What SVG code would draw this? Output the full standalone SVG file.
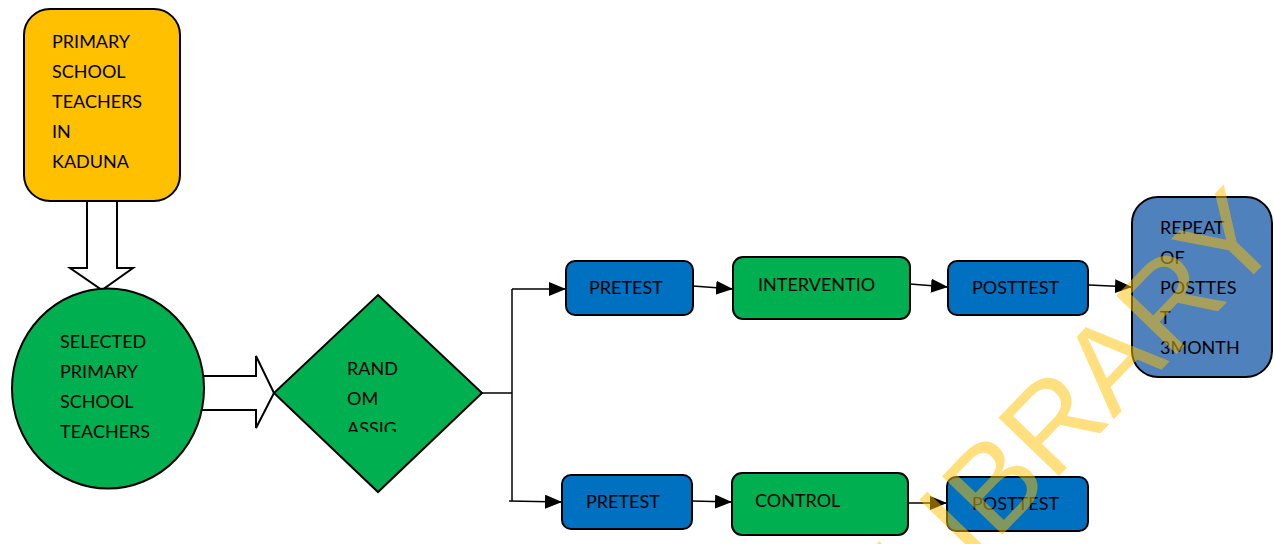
<svg xmlns="http://www.w3.org/2000/svg" width="1275" height="544" viewBox="0 0 1275 544">
  <defs>
    <marker id="arrow" markerWidth="17" markerHeight="14" refX="17" refY="7" orient="auto" markerUnits="userSpaceOnUse">
      <path d="M0,0 L17,7 L0,14 Z" fill="#000"/>
    </marker>
    <clipPath id="clip-assign">
      <rect x="330" y="300" width="120" height="132"/>
    </clipPath>
  </defs>
  <style>
    .box { stroke: #000; stroke-width: 2; }
    .label { font-family: Lato, "Liberation Sans", sans-serif; font-size: 18px; fill: #000; }
    .conn { stroke: #000; stroke-width: 1.5; fill: none; }
    .block { fill: #fff; stroke: #000; stroke-width: 2; stroke-linejoin: miter; }
    .orange { fill: #FFC000; }
    .green { fill: #00B050; }
    .blue { fill: #0070C0; }
    .steel { fill: #4F81BD; }
    .watermark { font-family: "Liberation Sans", Arial, sans-serif; font-size: 122px; fill: #FFC000; opacity: 0.5; }
  </style>

  <!-- block arrows between the first stages -->
  <g id="block-arrows">
    <polygon class="block" points="87,200 117,200 117,268 133,268 102,290 70,268 87,268"/>
    <polygon class="block" points="200,376 256,376 256,356 274,393 256,428 256,410 200,410"/>
  </g>

  <g id="population">
    <rect class="box orange" x="24" y="9" width="156" height="192" rx="26"/>
    <text class="label" x="52" y="48">PRIMARY</text>
    <text class="label" x="52" y="78">SCHOOL</text>
    <text class="label" x="52" y="108">TEACHERS</text>
    <text class="label" x="52" y="138">IN</text>
    <text class="label" x="52" y="168">KADUNA</text>
  </g>

  <g id="selected">
    <ellipse class="box green" cx="108" cy="388.5" rx="96" ry="100"/>
    <text class="label" x="60" y="348">SELECTED</text>
    <text class="label" x="60" y="378">PRIMARY</text>
    <text class="label" x="60" y="408">SCHOOL</text>
    <text class="label" x="60" y="438">TEACHERS</text>
  </g>

  <g id="random-assignment">
    <polygon class="box green" points="378,295 482,393 378,492 274,393"/>
    <text class="label" x="347" y="375">RAND</text>
    <text class="label" x="347" y="405">OM</text>
    <text class="label" x="347" y="435" clip-path="url(#clip-assign)">ASSIG</text>
  </g>

  <g id="connectors">
    <path class="conn" d="M482,393 H512"/>
    <path class="conn" d="M512,289 V501"/>
    <path class="conn" d="M512,289 H566" marker-end="url(#arrow)"/>
    <path class="conn" d="M509,501 L562,502" marker-end="url(#arrow)"/>
    <path class="conn" d="M693,286 L733,289" marker-end="url(#arrow)"/>
    <path class="conn" d="M910,284 L948,287" marker-end="url(#arrow)"/>
    <path class="conn" d="M1089,285 L1132,287" marker-end="url(#arrow)"/>
    <path class="conn" d="M692,501 L732,502" marker-end="url(#arrow)"/>
    <path class="conn" d="M908,503 L947,503" marker-end="url(#arrow)"/>
  </g>

  <g id="pretest-intervention">
    <rect class="box blue" x="566" y="261" width="127" height="54" rx="9"/>
    <text class="label" x="589" y="294">PRETEST</text>
  </g>
  <g id="intervention">
    <rect class="box green" x="733" y="257" width="177" height="62" rx="10"/>
    <text class="label" x="758" y="291">INTERVENTIO</text>
  </g>
  <g id="posttest-intervention">
    <rect class="box blue" x="948" y="261" width="140" height="54" rx="9"/>
    <text class="label" x="972" y="294">POSTTEST</text>
  </g>
  <g id="repeat-posttest">
    <rect class="box steel" x="1132" y="197" width="140" height="180" rx="26"/>
    <text class="label" x="1160" y="234">REPEAT</text>
    <text class="label" x="1160" y="264">OF</text>
    <text class="label" x="1160" y="294">POSTTES</text>
    <text class="label" x="1160" y="324">T</text>
    <text class="label" x="1160" y="354">3MONTH</text>
  </g>

  <g id="pretest-control">
    <rect class="box blue" x="562" y="475" width="130" height="54" rx="9"/>
    <text class="label" x="586" y="508">PRETEST</text>
  </g>
  <g id="control">
    <rect class="box green" x="732" y="473" width="176" height="62" rx="10"/>
    <text class="label" x="755" y="507">CONTROL</text>
  </g>
  <g id="posttest-control">
    <rect class="box blue" x="947" y="477" width="141" height="54" rx="9"/>
    <text class="label" x="972" y="510">POSTTEST</text>
  </g>

  <text class="watermark" x="1286" y="241" text-anchor="end" transform="rotate(-46 1286 241)">LIBRARY</text>
</svg>
